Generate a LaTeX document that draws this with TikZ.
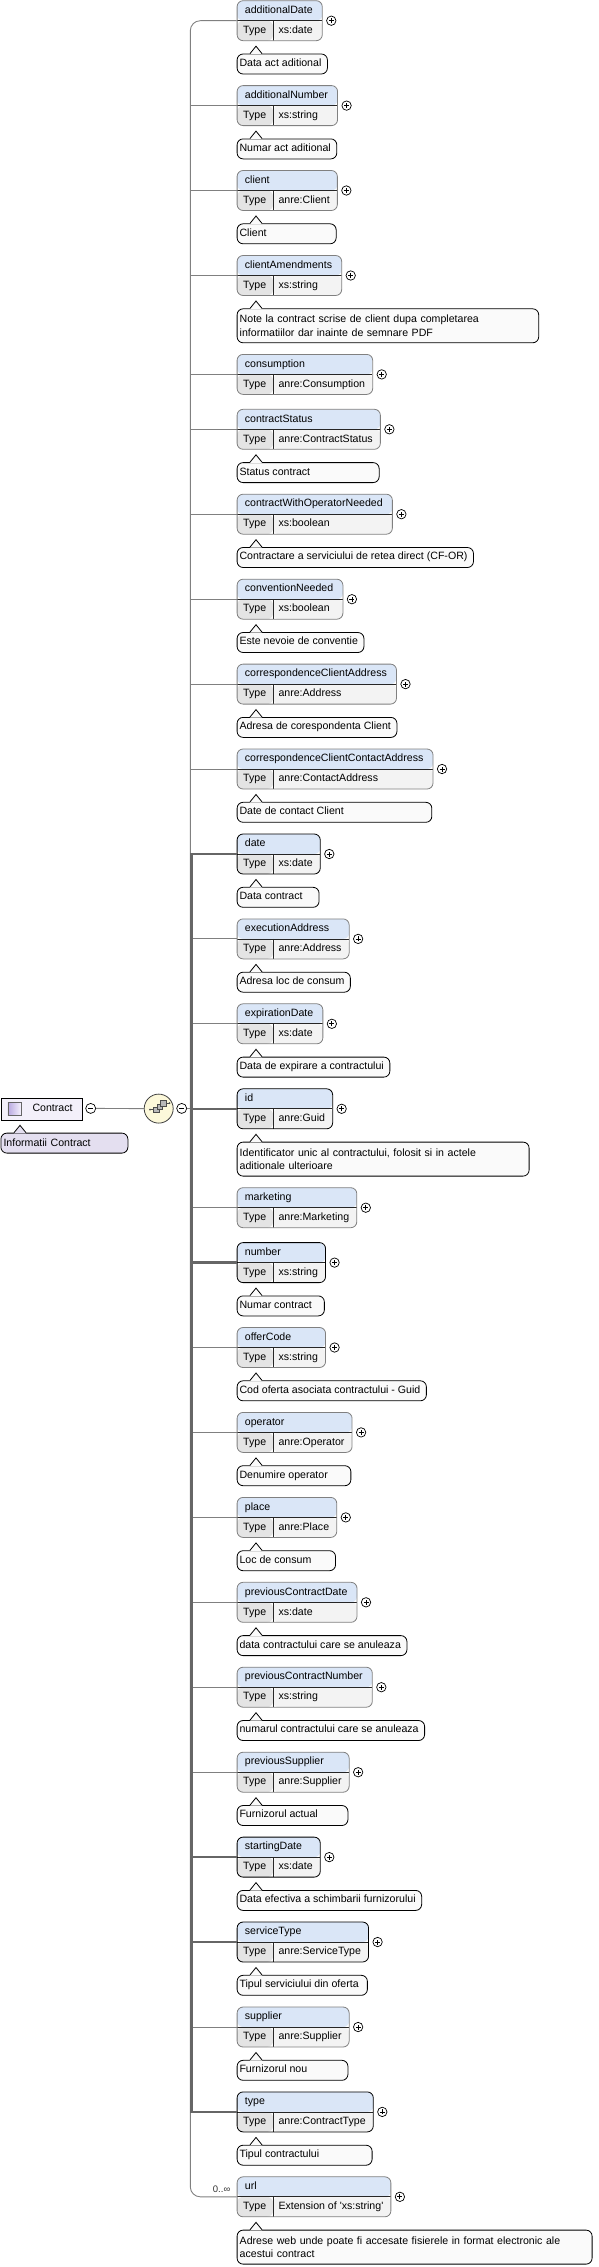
\documentclass[tikz,border=0pt]{standalone}
\usepackage{fontspec}
\setmainfont{Liberation Sans}
\newfontfamily\elfam{Liberation Sans}
\usetikzlibrary{calc}
\pgfdeclarelayer{bg}
\pgfsetlayers{bg,main}
\definecolor{hdrblue}{HTML}{DAE6F7}
\definecolor{typegray}{HTML}{E4E4E4}
\definecolor{valgray}{HTML}{F3F3F3}
\definecolor{notefill}{HTML}{FAFAFA}
\definecolor{rootfill}{HTML}{F3F0FA}
\definecolor{rootnote}{HTML}{E4DFF0}
\definecolor{icondark}{HTML}{B8A8E0}
\definecolor{iconlight}{HTML}{F4F0FC}
\definecolor{seqfill}{HTML}{FCF8DA}
\definecolor{linegray}{HTML}{808080}
\definecolor{boldgray}{HTML}{666666}
\newcommand\elfont{\elfam\fontsize{10.6}{13.3}\selectfont}
\tikzset{
  elbox/.style={draw, rounded corners=6pt, line width=0.8pt, minimum height=40pt,
    inner sep=0pt, anchor=north west,
    path picture={
      \fill[hdrblue] (path picture bounding box.north west) rectangle (path picture bounding box.east);
      \fill[typegray] (path picture bounding box.west) rectangle ([xshift=36pt]path picture bounding box.south west);
      \fill[valgray] ([xshift=36pt]path picture bounding box.west) rectangle (path picture bounding box.south east);
      \draw[black!85, line width=0.8pt] (path picture bounding box.west) -- (path picture bounding box.east)
        ([xshift=36pt]path picture bounding box.west) -- ([xshift=36pt]path picture bounding box.south west);
    }},
  optbox/.style={elbox, draw=linegray},
  reqbox/.style={elbox, draw=black},
  eltext/.style={font=\elfont, inner sep=0pt, text height=7.8pt, text depth=2.2pt},
  note/.style={draw, rounded corners=6pt, line width=0.8pt, fill=notefill, font=\elfont,
    align=left, inner xsep=2.6pt, inner ysep=0pt, anchor=north west, minimum height=20pt},
  plus/.style={circle, draw, fill=white, minimum size=9.4pt, inner sep=0pt, line width=0.7pt,
    path picture={\draw[line width=0.8pt]
      ([xshift=-2.5pt]path picture bounding box.center) -- ([xshift=2.5pt]path picture bounding box.center)
      ([yshift=-2.5pt]path picture bounding box.center) -- ([yshift=2.5pt]path picture bounding box.center);}},
  minus/.style={circle, draw, fill=white, minimum size=10pt, inner sep=0pt, line width=0.7pt,
    path picture={\draw[line width=0.8pt]
      ([xshift=-2.6pt]path picture bounding box.center) -- ([xshift=2.6pt]path picture bounding box.center);}},
  conn/.style={draw=linegray, line width=0.9pt},
  boldconn/.style={draw=boldgray, line width=2.6pt}
}
\begin{document}
\begin{tikzpicture}[x=1pt, y=-1pt]
\useasboundingbox (0,0) rectangle (599,2267);

% root element
\node[draw, fill=rootfill, line width=1pt, minimum width=81pt, minimum height=22pt,
  inner sep=0pt, anchor=north west] (root) at (0.5,1097.5) {};
\node[draw=black!60, left color=icondark, right color=iconlight, minimum size=13pt,
  inner sep=0pt] (root-i) at (14.3,1108.6) {};
\node[eltext, anchor=west] (root-n) at (32.3,1108.4) {Contract};
\node[minus] (root-m) at (90.7,1108.4) {};
\node[note, fill=rootnote, text width=121.8pt] (root-a) at (0.5,1132.7) {Informatii Contract};
\fill[rootnote] ([xshift=13.5pt,yshift=-0.6pt]root-a.north west) -- ++(6,-7.4) -- ++(6,7.4) -- cycle;
\draw[line width=0.8pt] ([xshift=13.5pt]root-a.north west) -- ++(6,-7.4) -- ++(6,7.4);

% sequence
\node[circle, draw=black!75, fill=seqfill, line width=0.8pt, minimum size=29pt] (seq) at (158.7,1108.6) {};
\draw[black!70, line width=0.7pt] (150,1109.5) -- (153.5,1109.5) (166,1103) -- (169.5,1103);
\fill[black!70] (150,1109.5) circle (1) (169.5,1103) circle (1);
\foreach \k in {0,1,2}
  \draw[fill=gray!55, draw=black!70, line width=0.6pt] (153.5+3.5*\k,1112.5-3.2*\k) rectangle ++(5.5,-5.5);
\node[minus] (seq-m) at (181.7,1108.4) {};
\coordinate (bus) at (190.3,1108.4);
\coordinate (bus2) at (191.6,1108.4);
\draw[conn] (root-m.east) -- (seq.west);
\draw[conn, line width=1.3pt] (seq-m.east) -- (bus2);

% child elements
\foreach \k/\yy/\nm/\tp/\st/\annw/\txt in {
  1/0.3/additionalDate/xs:date/optbox/0/Data act aditional,
  2/85.2/additionalNumber/xs:string/optbox/0/Numar act aditional,
  3/170.1/client/anre:Client/optbox/0/Client,
  4/255.1/clientAmendments/xs:string/optbox/301.6/{Note la contract scrise de client dupa completarea\\informatiilor dar inainte de semnare PDF},
  5/354.0/consumption/anre:Consumption/optbox/-1/{},
  6/408.9/contractStatus/anre:ContractStatus/optbox/0/Status contract,
  7/493.8/contractWithOperatorNeeded/xs:boolean/optbox/0/{Contractare a serviciului de retea direct (CF-OR)},
  8/578.8/conventionNeeded/xs:boolean/optbox/0/Este nevoie de conventie,
  9/663.7/correspondenceClientAddress/anre:Address/optbox/0/Adresa de corespondenta Client,
  10/748.6/correspondenceClientContactAddress/anre:ContactAddress/optbox/0/Date de contact Client,
  11/833.6/date/xs:date/reqbox/0/Data contract,
  12/918.5/executionAddress/anre:Address/optbox/0/Adresa loc de consum,
  13/1003.4/expirationDate/xs:date/optbox/0/Data de expirare a contractului,
  14/1088.4/id/anre:Guid/reqbox/292/{Identificator unic al contractului, folosit si in actele\\aditionale ulterioare},
  15/1187.3/marketing/anre:Marketing/optbox/-1/{},
  16/1242.2/number/xs:string/reqbox/0/Numar contract,
  17/1327.1/offerCode/xs:string/optbox/0/Cod oferta asociata contractului - Guid,
  18/1412.0/operator/anre:Operator/optbox/0/Denumire operator,
  19/1497.0/place/anre:Place/optbox/0/Loc de consum,
  20/1581.9/previousContractDate/xs:date/optbox/0/data contractului care se anuleaza,
  21/1666.8/previousContractNumber/xs:string/optbox/0/numarul contractului care se anuleaza,
  22/1751.8/previousSupplier/anre:Supplier/optbox/0/Furnizorul actual,
  23/1836.7/startingDate/xs:date/reqbox/0/Data efectiva a schimbarii furnizorului,
  24/1921.6/serviceType/anre:ServiceType/reqbox/0/Tipul serviciului din oferta,
  25/2006.6/supplier/anre:Supplier/optbox/0/Furnizorul nou,
  26/2091.5/type/anre:ContractType/reqbox/0/Tipul contractului,
  27/2176.4/url/{Extension of 'xs:string'}/optbox/355/{Adrese web unde poate fi accesate fisierele in format electronic ale\\acestui contract}}
{
  \node[eltext, anchor=west] (e\k-n) at (244.7,\yy+10.3) {\nm};
  \node[eltext] (e\k-l) at (254.7,\yy+30.3) {Type};
  \node[eltext, anchor=west] (e\k-t) at (278.3,\yy+30.3) {\tp};
  \begin{pgfonlayer}{bg}
    \path let \p1=(e\k-n.east), \p2=(e\k-t.east), \n1={max(\x1+9pt,\x2+7pt)-236.7pt} in
      node[\st, minimum width=\n1] (e\k) at (236.7,\yy) {};
  \end{pgfonlayer}
  \node[plus] (e\k-p) at ([xshift=8.6pt]e\k.east) {};
  \ifdim\annw pt<0pt \else
    \ifdim\annw pt=0pt
      \node[eltext, anchor=west] (e\k-x) at (239.3,\yy+63.3) {\txt};
      \begin{pgfonlayer}{bg}
        \path let \p1=(e\k-x.east), \p2=(e\k.east), \n2={max(\x1+5.4pt,\x2-2pt)-236.7pt} in
          node[note, minimum width=\n2] (e\k-a) at (236.7,\yy+53.3) {};
      \end{pgfonlayer}
    \else
      \pgfmathsetmacro\tw{\annw-5.2}
      \node[note, text width=\tw pt, minimum height=34pt] (e\k-a) at (236.7,\yy+53.3) {\txt};
    \fi
    \fill[notefill] ([xshift=13.3pt,yshift=-0.6pt]e\k-a.north west) -- ++(6,-7.4) -- ++(6,7.4) -- cycle;
    \draw[line width=0.8pt] ([xshift=13.3pt]e\k-a.north west) -- ++(6,-7.4) -- ++(6,7.4);
  \fi
}

% connectors
\draw[conn, rounded corners=10pt] (e1.west) -- (e1.west -| bus) -- (e27.west -| bus) -- (e27.west);
\foreach \k in {2,...,26}
  \draw[conn] (e\k.west) -- (e\k.west -| bus);
\draw[boldconn] (e11.west) -- (e11.west -| bus2) -- (e26.west -| bus2) -- (e26.west);
\foreach \k in {14,16,23,24}
  \draw[boldconn] (e\k.west) -- (e\k.west -| bus2);
\node[font=\elfam\fontsize{9.5}{11}\selectfont, text=black!80, anchor=base east, inner sep=0pt] (e27-c) at (230.5,2192.5) {0..∞};

\end{tikzpicture}
\end{document}
